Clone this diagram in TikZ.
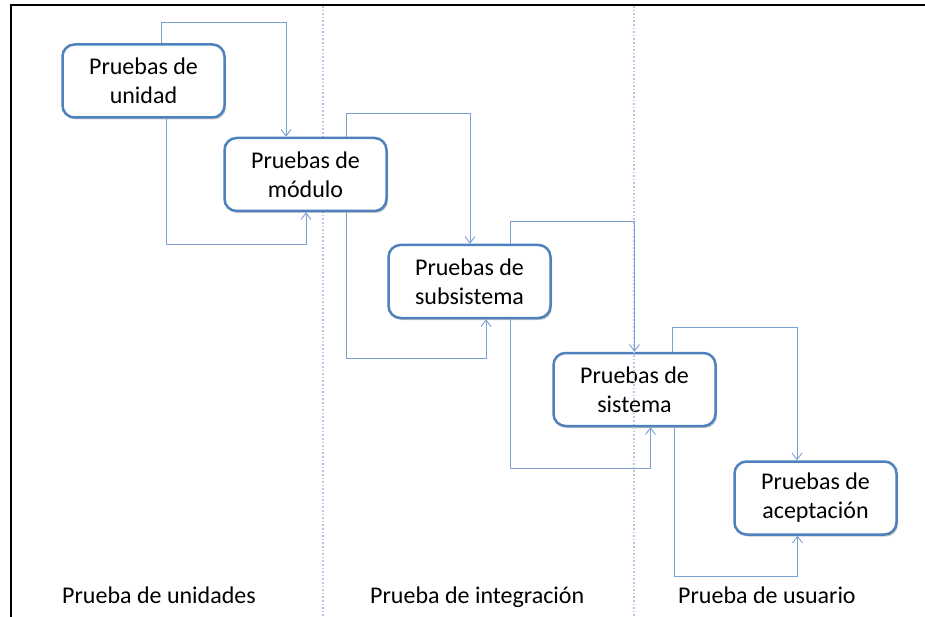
\documentclass[tikz,border=0pt]{standalone}
\usepackage{fontspec}
\setmainfont{Carlito}
\usetikzlibrary{arrows.meta,shadows}
\definecolor{boxblue}{HTML}{4F81BD}
\definecolor{connblue}{HTML}{7BA0D4}
\definecolor{sepblue}{HTML}{B4C8E4}
\tikzset{
  stepbox/.style={draw=boxblue, line width=2.5pt, fill=white, rounded corners=12pt,
    minimum width=162pt, minimum height=73pt, align=center, inner sep=0pt,
    font=\fontsize{24}{29}\selectfont,
    drop shadow={shadow xshift=1.5pt, shadow yshift=-2pt, opacity=0.35, fill=black!60}},
  conn/.style={draw=connblue, line width=0.9pt, -{Straight Barb[length=6.5pt,width=10pt,line width=0.9pt]}},
  sepline/.style={draw=sepblue, line width=1.6pt, dotted},
  phase/.style={anchor=base west, font=\fontsize{24}{29}\selectfont, inner sep=0pt}
}
\begin{document}
\begin{tikzpicture}[x=1pt,y=-1pt]
\useasboundingbox (0,0) rectangle (925,617);
\fill[white] (0,0) rectangle (925,617);
\draw[line width=2.5pt] (11,617) -- (11,5) -- (925,5);
\coordinate (s1a) at (323,6);
\coordinate (s1b) at (323,617);
\coordinate (s2a) at (634,6);
\coordinate (s2b) at (634,617);
\draw[sepline] (s1a) -- (s1b);

\node[stepbox] (b1) at (143.5,81) {Pruebas de\\unidad};
\node[stepbox] (b2) at (305.5,174.5) {Pruebas de\\módulo};
\node[stepbox] (b3) at (469.5,281.5) {Pruebas de\\subsistema};
\node[stepbox] (b4) at (634.5,389.5) {Pruebas de\\sistema};
\node[stepbox] (b5) at (815.5,498) {Pruebas de\\aceptación};

\draw[sepline] (s2a) -- (s2b);

% forward connectors (top)
\coordinate (t12) at (286,22);
\coordinate (t23) at (470,113);
\coordinate (t34) at (634.5,221);
\coordinate (t45) at (797,327);
\draw[conn] ([xshift=17.5]b1.north) |- (t12) -- (t12 |- b2.north);
\draw[conn] ([xshift=40.5]b2.north) |- (t23) -- (t23 |- b3.north);
\draw[conn] ([xshift=40.5]b3.north) |- (t34) -- (t34 |- b4.north);
\draw[conn] ([xshift=38]b4.north) |- (t45) -- (t45 |- b5.north);

% return connectors (bottom)
\coordinate (u12) at (306,244);
\coordinate (u23) at (486,358);
\coordinate (u34) at (650.5,468);
\coordinate (u45) at (797.5,576);
\draw[conn] ([xshift=22.5]b1.south) |- (u12) -- (u12 |- b2.south);
\draw[conn] ([xshift=40.5]b2.south) |- (u23) -- (u23 |- b3.south);
\draw[conn] ([xshift=40.5]b3.south) |- (u34) -- (u34 |- b4.south);
\draw[conn] ([xshift=39.5]b4.south) |- (u45) -- (u45 |- b5.south);

\node[phase] (p1) at (62,603) {Prueba de unidades};
\node[phase] (p2) at (370,603) {Prueba de integración};
\node[phase] (p3) at (678,603) {Prueba de usuario};
\end{tikzpicture}
\end{document}
